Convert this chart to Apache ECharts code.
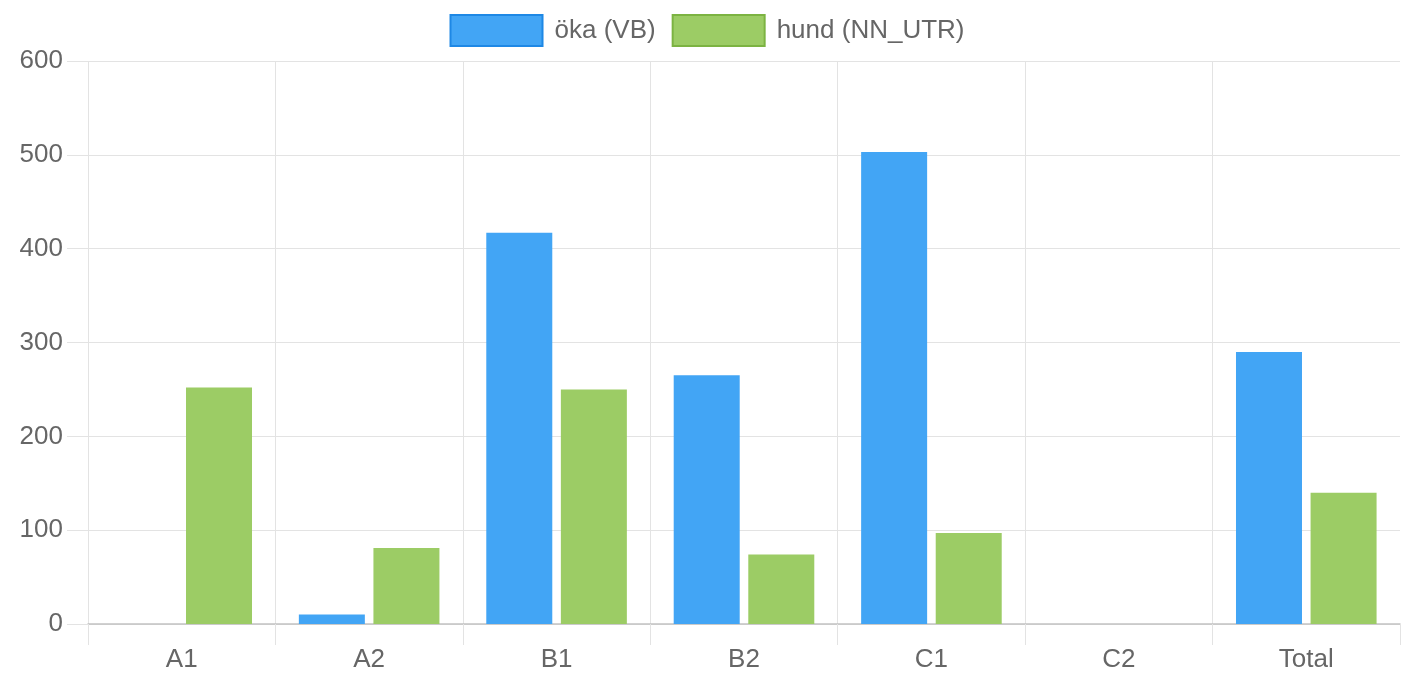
<!DOCTYPE html>
<html>
<head>
<meta charset="utf-8">
<script src="https://cdn.jsdelivr.net/npm/echarts@6/dist/echarts.min.js"></script>
<style>
html,body{margin:0;padding:0;background:#fff;}
#chart{width:1414px;height:674px;}
</style>
</head>
<body>
<div id="chart"></div>
<script>
const categories = ['A1', 'A2', 'B1', 'B2', 'C1', 'C2', 'Total'];
const okaVB = [0, 10, 417, 265, 503, 0, 290];
const hundNNUTR = [252, 81, 250, 74, 97, 0, 140];
const seriesNames = ['öka (VB)', 'hund (NN_UTR)'];
const yTicks = { min: 0, max: 600, interval: 100 };

const FONT = '"Liberation Sans", Arial, Helvetica, sans-serif';
const chart = echarts.init(document.getElementById('chart'));
chart.setOption({
  animation: false,
  backgroundColor: '#ffffff',
  textStyle: { fontFamily: FONT },
  legend: {
    top: 9,
    left: 'center',
    itemWidth: 92,
    itemHeight: 31,
    itemGap: 16,
    icon: 'rect',
    textStyle: { fontSize: 26, color: '#666666', fontFamily: FONT, padding: [0, 0, 0, 7] },
    data: [
      { name: seriesNames[0], itemStyle: { color: '#42a5f5', borderColor: '#1e88e5', borderWidth: 2 } },
      { name: seriesNames[1], itemStyle: { color: '#9ccc65', borderColor: '#7cb342', borderWidth: 2 } }
    ]
  },
  grid: { left: 88, right: 14, top: 61, bottom: 50, containLabel: false },
  xAxis: {
    type: 'category',
    data: categories,
    boundaryGap: true,
    axisLine: { show: true, lineStyle: { color: '#c2c2c2', width: 1.5 } },
    axisTick: { show: true, length: 21, lineStyle: { color: '#e3e3e3' } },
    axisLabel: { fontSize: 26, color: '#666666', margin: 23, fontFamily: FONT },
    splitLine: { show: true, showMaxLine: false, lineStyle: { color: '#e3e3e3', width: 1 } }
  },
  yAxis: {
    type: 'value',
    min: yTicks.min,
    max: yTicks.max,
    interval: yTicks.interval,
    axisLine: { show: false },
    axisTick: { show: true, length: 21, lineStyle: { color: '#e3e3e3' } },
    axisLabel: { fontSize: 26, color: '#666666', margin: 25, fontFamily: FONT },
    splitLine: { show: true, lineStyle: { color: '#e3e3e3', width: 1 } }
  },
  series: [
    {
      name: seriesNames[0],
      type: 'bar',
      data: okaVB,
      barWidth: 66,
      barGap: '13%',
      itemStyle: { color: '#42a5f5' }
    },
    {
      name: seriesNames[1],
      type: 'bar',
      data: hundNNUTR,
      barWidth: 66,
      barGap: '13%',
      itemStyle: { color: '#9ccc65' }
    }
  ]
});
</script>
</body>
</html>
